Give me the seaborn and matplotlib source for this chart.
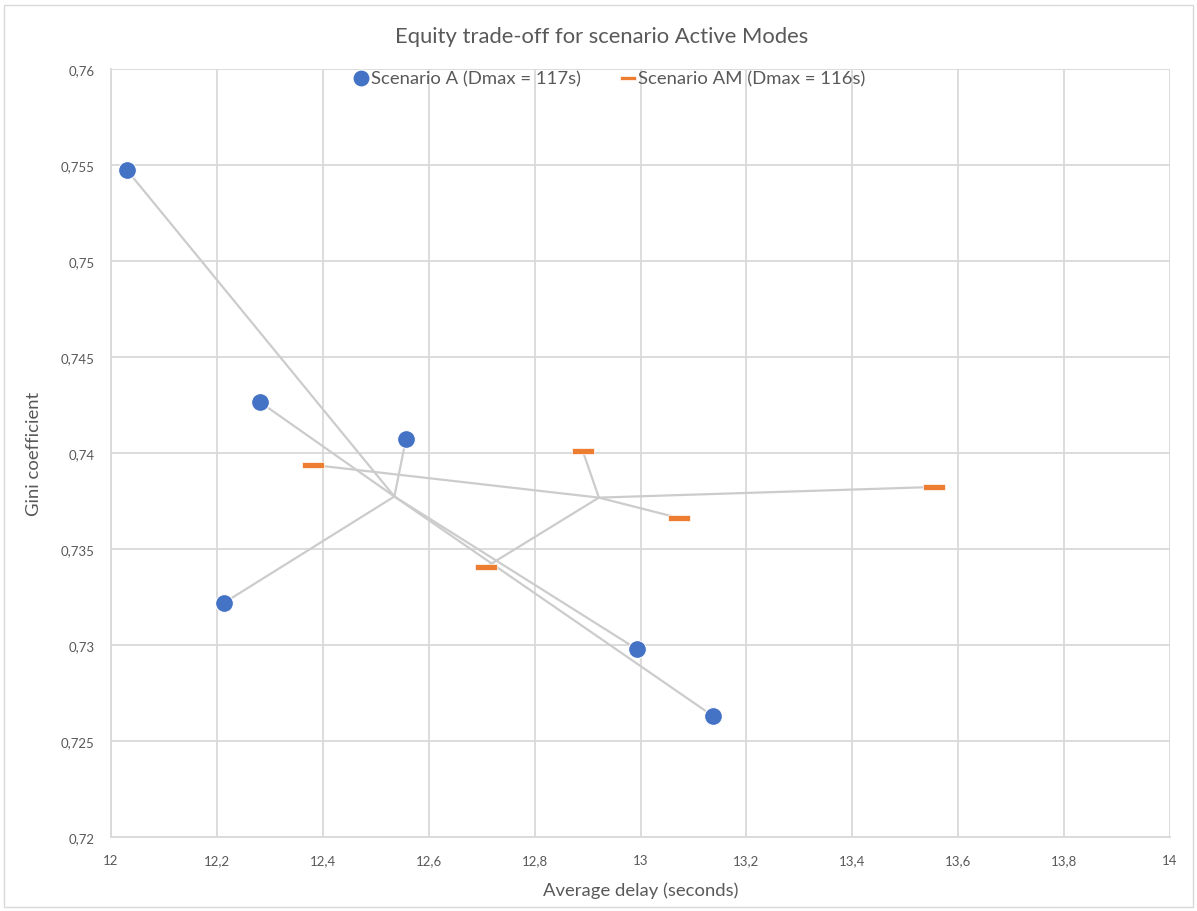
import numpy as np
import pandas as pd
import matplotlib
matplotlib.use("Agg")
import matplotlib.pyplot as plt
from matplotlib.path import Path
from matplotlib.patches import Rectangle
import seaborn as sns

# Scenario A: average delay (s) and Gini coefficient per run
a_delay = [12.030, 12.281, 12.557, 12.213, 12.993, 13.137]
a_gini = [0.75474, 0.74266, 0.74073, 0.73219, 0.72979, 0.72630]

# Scenario AM: average delay (s) and Gini coefficient per run
am_delay = [12.381, 12.891, 13.073, 12.708, 13.554]
am_gini = [0.73938, 0.74010, 0.73661, 0.73406, 0.73823]

label_a = "Scenario A (Dmax = 117s)"
label_am = "Scenario AM (Dmax = 116s)"

x_ticks = [12.0, 12.2, 12.4, 12.6, 12.8, 13.0, 13.2, 13.4, 13.6, 13.8, 14.0]
y_ticks = [0.72, 0.725, 0.73, 0.735, 0.74, 0.745, 0.75, 0.755, 0.76]

BLUE = "#4472C4"
ORANGE = "#ED7D31"
GRID = "#D9D9D9"
SPOKE = "#CCCCCC"
TEXT = "#595959"

sns.set_theme(style="white")
plt.rcParams["font.family"] = ["Lato", "DejaVu Sans"]

fig = plt.figure(figsize=(11.97, 9.12), dpi=100)
fig.patches.append(Rectangle((0.003, 0.004), 0.994, 0.989, transform=fig.transFigure,
                             fill=False, edgecolor="#D9D9D9", linewidth=1.0))
ax = fig.add_axes([111 / 1197, 74 / 912, 1059 / 1197, 768 / 912])

df_a = pd.DataFrame({"delay": a_delay, "gini": a_gini})
df_am = pd.DataFrame({"delay": am_delay, "gini": am_gini})

# Spokes from each scenario's centroid to its points
for df in (df_a, df_am):
    cx, cy = df["delay"].mean(), df["gini"].mean()
    for x, y in zip(df["delay"], df["gini"]):
        ax.plot([cx, x], [cy, y], color=SPOKE, linewidth=1.6, zorder=2,
                solid_capstyle="round")

# Horizontal bar marker for scenario AM
bar_marker = Path([(-1, -0.24), (1, -0.24), (1, 0.24), (-1, 0.24), (-1, -0.24)],
                  [Path.MOVETO, Path.LINETO, Path.LINETO, Path.LINETO, Path.CLOSEPOLY])

sns.scatterplot(data=df_a, x="delay", y="gini", ax=ax, color=BLUE, s=165,
                edgecolor="white", linewidth=0.8, zorder=3, label=label_a)
sns.scatterplot(data=df_am, x="delay", y="gini", ax=ax, color=ORANGE, s=270,
                marker=bar_marker, edgecolor="white", linewidth=0.5, zorder=3,
                label=label_am)

ax.set_xlim(12, 14)
ax.set_ylim(0.72, 0.76)
ax.set_xticks(x_ticks)
ax.set_yticks(y_ticks)
ax.set_xticklabels([f"{v:g}".replace(".", ",") for v in x_ticks])
ax.set_yticklabels([f"{v:g}".replace(".", ",") for v in y_ticks])
ax.tick_params(axis="both", length=0, labelsize=9.5, labelcolor=TEXT)
ax.tick_params(axis="x", pad=12)
ax.tick_params(axis="y", pad=12)

ax.grid(True, color=GRID, linewidth=1.3)
ax.set_axisbelow(True)
for side in ("top", "right"):
    ax.spines[side].set_visible(False)
for side in ("left", "bottom"):
    ax.spines[side].set_color(GRID)
    ax.spines[side].set_linewidth(1.3)

ax.set_xlabel("Average delay (seconds)", fontsize=13.3, color=TEXT, labelpad=11)
ax.set_ylabel("Gini coefficient", fontsize=13.3, color=TEXT, labelpad=13)
fig.text(0.503, 0.959, "Equity trade-off for scenario Active Modes", ha="center",
         va="center", fontsize=15.8, color=TEXT)

leg = ax.legend(loc="center", bbox_to_anchor=(497 / 1059, 1 - 9 / 768), ncol=2,
                frameon=False, fontsize=13.3, handletextpad=0.0, columnspacing=2.0,
                borderaxespad=0, handlelength=1.1)
handles = leg.legend_handles
handles[0].set_sizes([150])
handles[1].set_sizes([120])
for t in leg.get_texts():
    t.set_color(TEXT)

fig.savefig("out.png", dpi=100, facecolor="white")
